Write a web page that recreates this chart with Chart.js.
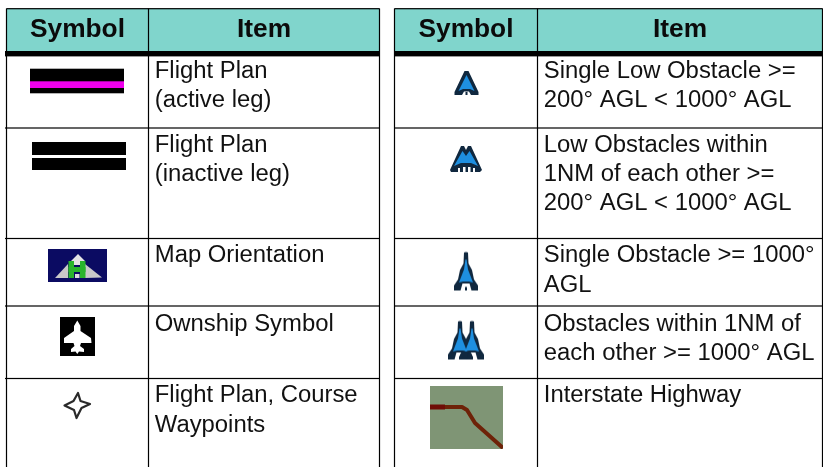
<!DOCTYPE html>
<html>
<head>
<meta charset="utf-8">
<title>Symbol table</title>
<style>
    html, body { margin: 0; padding: 0; background: #fff; }
    canvas { display: block; }
</style>
<script src="https://cdn.jsdelivr.net/npm/chart.js@4/dist/chart.umd.js"></script>
</head>
<body>
<canvas id="symbolChart" width="823" height="468"></canvas>
<script>
// Table content
const headers = ['Symbol', 'Item'];
const leftSymbols = ['activeLeg', 'inactiveLeg', 'mapOrientation', 'ownship', 'waypoint'];
const rightSymbols = ['lowObstacle', 'lowObstacles', 'obstacle', 'obstacles', 'highway'];
const leftItems = [
    ['Flight Plan', '(active leg)'],
    ['Flight Plan', '(inactive leg)'],
    ['Map Orientation'],
    ['Ownship Symbol'],
    ['Flight Plan, Course', 'Waypoints']
];
const rightItems = [
    ['Single Low Obstacle >=', '200° AGL < 1000° AGL'],
    ['Low Obstacles within', '1NM of each other >=', '200° AGL < 1000° AGL'],
    ['Single Obstacle >= 1000°', 'AGL'],
    ['Obstacles within 1NM of', 'each other >= 1000° AGL'],
    ['Interstate Highway']
];

// Table layout, in picture units (the axes run 0-823 and 0-468)
const leftColumns = [6.5, 148.5, 379.5];
const rightColumns = [394.5, 537.5, 822.5];
const rowLines = [128, 238.5, 306, 378.5];
const firstBaselines = [78, 152, 262, 331, 402];
const lineGaps = [29, 29, 30, 28.5, 30];
const leftSymbolX = [77, 79, 77.5, 77.5, 77];
const leftSymbolY = [81, 156, 265.5, 336.5, 405];
const rightSymbolX = [466, 466, 466, 466, 466.5];
const rightSymbolY = [83, 159, 271.5, 340.5, 417.5];

const INK = '#111';
const BLUE = '#1e8fe0';
const DARK = '#10283f';

// Makes a small blurred bitmap, the source picture is a soft raster
function makeSymbol(w, h, draw, blur) {
    const c = document.createElement('canvas');
    c.width = w;
    c.height = h;
    const ctx = c.getContext('2d');
    ctx.filter = 'blur(' + (blur === undefined ? 0.5 : blur) + 'px)';
    draw(ctx);
    return c;
}

function polygon(ctx, pts, fill) {
    ctx.beginPath();
    pts.forEach((p, i) => i ? ctx.lineTo(p[0], p[1]) : ctx.moveTo(p[0], p[1]));
    ctx.closePath();
    ctx.fillStyle = fill;
    ctx.fill();
}

// Tall obstacle tower: dark outline with an arch cut out of the foot
function towerOutline(ctx, cx, top) {
    const pts = [
        [-2, 0.5], [0, 0], [2, 0.5], [2.5, 11.5], [6, 18], [8, 27.5], [12, 33.5], [12, 38.5],
        [5.5, 38.5], [3.5, 31.5], [-3.5, 31.5], [-5.5, 38.5], [-12, 38.5], [-12, 33.5],
        [-8, 27.5], [-6, 18], [-2.5, 11.5]
    ];
    polygon(ctx, pts.map(p => [cx + p[0], top + p[1]]), DARK);
}

function towerFill(ctx, cx, top) {
    const pts = [
        [-0.5, 7.5], [0.5, 7.5], [2, 17.5], [7, 30.5], [3, 29.5], [-3, 29.5], [-7, 30.5], [-2, 17.5]
    ];
    polygon(ctx, pts.map(p => [cx + p[0], top + p[1]]), BLUE);
    ctx.fillStyle = DARK;
    ctx.fillRect(cx - 1, top + 35, 2, 3.5);
}

const symbolImages = {
    activeLeg: makeSymbol(98, 30, ctx => {
        ctx.fillStyle = '#000';
        ctx.fillRect(2, 2.7, 94, 24.6);
        ctx.fillStyle = '#f000ee';
        ctx.fillRect(2, 15.3, 94, 6.7);
    }, 0.5),
    inactiveLeg: makeSymbol(98, 32, ctx => {
        ctx.fillStyle = '#000';
        ctx.fillRect(2, 2, 94, 13);
        ctx.fillRect(2, 18, 94, 12);
    }, 0.6),
    mapOrientation: makeSymbol(59, 33, ctx => {
        ctx.fillStyle = '#0b0b62';
        ctx.fillRect(0, 0, 59, 33);
        ctx.filter = 'blur(0.6px)';
        polygon(ctx, [[7, 29], [20, 15], [20, 29]], '#c9c9c9');
        polygon(ctx, [[37, 15], [54, 28.5], [37, 29]], '#c9c9c9');
        polygon(ctx, [[30, 5], [37, 12], [33, 12], [33, 16], [26, 16], [26, 12], [23, 12]], '#e4e4e4');
        ctx.fillStyle = '#29b52c';
        ctx.fillRect(20.5, 12, 5.5, 17);
        ctx.fillRect(32, 12, 5.5, 17);
        ctx.fillRect(20.5, 18, 17, 5);
        ctx.fillStyle = '#ddd';
        ctx.fillRect(27, 25, 4.5, 4);
    }),
    ownship: makeSymbol(35, 39, ctx => {
        ctx.fillStyle = '#000';
        ctx.fillRect(0, 0, 35, 39);
        polygon(ctx, [
            [17.3, 3.5], [20.5, 9], [20.5, 14], [31, 21], [31.5, 26], [21, 26], [20, 29], [24, 32], [24, 35],
            [19, 34.5], [17.3, 37], [15.5, 34.5], [11, 35], [11, 32], [14.5, 29], [13.5, 26], [4, 26], [4, 21], [14, 14], [14, 9]
        ], '#fff');
    }, 0.4),
    waypoint: makeSymbol(34, 34, ctx => {
        ctx.beginPath();
        const pts = [[18, 5], [20.5, 13], [30, 16], [21.5, 20], [16.5, 30], [14, 22], [4.5, 17.5], [13.5, 13]];
        pts.forEach((p, i) => i ? ctx.lineTo(p[0], p[1]) : ctx.moveTo(p[0], p[1]));
        ctx.closePath();
        ctx.strokeStyle = '#2a2a2a';
        ctx.lineWidth = 2.2;
        ctx.lineJoin = 'round';
        ctx.stroke();
    }, 0.6),
    lowObstacle: makeSymbol(28, 30, ctx => {
        polygon(ctx, [[12.5, 3], [16.5, 3], [26.5, 24], [26.5, 27], [19, 27], [17, 23.5], [12, 23.5], [10, 27], [2.5, 27], [2.5, 24]], DARK);
        polygon(ctx, [[14.5, 7], [22.5, 23], [18, 21], [11, 21], [6.5, 23]], BLUE);
        ctx.fillStyle = DARK;
        ctx.fillRect(13.5, 24, 2, 3);
    }),
    lowObstacles: makeSymbol(36, 30, ctx => {
        polygon(ctx, [[13, 2], [16, 2], [18, 6], [20, 2], [23, 2], [34, 26], [32, 28], [3, 28], [2, 26]], DARK);
        polygon(ctx, [[14.5, 7], [18, 12], [21.5, 7], [30, 22], [23, 19], [13, 19], [6, 22]], BLUE);
        ctx.fillStyle = '#fff';
        ctx.fillRect(15, 23, 2.5, 5);
        ctx.fillRect(20, 23, 2.5, 5);
        ctx.fillRect(10, 24, 2, 4);
        ctx.fillRect(25, 24, 2, 4);
    }),
    obstacle: makeSymbol(30, 44, ctx => {
        towerOutline(ctx, 15, 2.5);
        towerFill(ctx, 15, 2.5);
    }),
    obstacles: makeSymbol(40, 44, ctx => {
        towerOutline(ctx, 14, 2.5);
        towerOutline(ctx, 26, 2.5);
        towerFill(ctx, 14, 2.5);
        towerFill(ctx, 26, 2.5);
    }),
    highway: makeSymbol(73, 63, ctx => {
        ctx.fillStyle = '#7f9575';
        ctx.fillRect(0, 0, 73, 63);
        ctx.filter = 'blur(0.6px)';
        ctx.lineCap = 'butt';
        ctx.lineJoin = 'round';
        ctx.strokeStyle = '#6e2208';
        ctx.lineWidth = 4;
        ctx.beginPath();
        ctx.moveTo(14, 21);
        ctx.lineTo(32, 21);
        ctx.lineTo(37, 24);
        ctx.lineTo(45, 37);
        ctx.lineTo(73, 62);
        ctx.stroke();
        ctx.strokeStyle = '#6f0c06';
        ctx.lineWidth = 5;
        ctx.beginPath();
        ctx.moveTo(0, 21);
        ctx.lineTo(15, 21);
        ctx.stroke();
    }, 0)
};

// Draws the cell fills, rules and text through the chart scales
const tablePlugin = {
    id: 'symbolTable',
    beforeDatasetsDraw(chart) {
        const { ctx, scales: { x, y } } = chart;
        const hLine = (x0, x1, yv, width) => {
            ctx.fillStyle = '#000';
            ctx.fillRect(x.getPixelForValue(x0), y.getPixelForValue(yv) - width / 2, x.getPixelForValue(x1) - x.getPixelForValue(x0), width);
        };
        const vLine = (xv, y0, y1) => {
            ctx.fillStyle = '#000';
            ctx.fillRect(x.getPixelForValue(xv) - 0.6, y.getPixelForValue(y0), 1.2, y.getPixelForValue(y1) - y.getPixelForValue(y0));
        };

        [[leftColumns, leftItems, 5], [rightColumns, rightItems, 394]].forEach(([cols, items, lineStart]) => {
            const right = cols[2];

            // Header band
            ctx.fillStyle = '#80d5cc';
            ctx.fillRect(x.getPixelForValue(cols[0]), y.getPixelForValue(8.5), x.getPixelForValue(right) - x.getPixelForValue(cols[0]), y.getPixelForValue(51) - y.getPixelForValue(8.5));

            // Rules
            hLine(cols[0], right, 8.7, 1.2);
            hLine(lineStart, right + 0.5, 53.7, 5.4);
            rowLines.forEach(r => hLine(lineStart, right + 0.5, r, 1.2));
            cols.forEach(c => vLine(c, 8.5, 467));

            // Header text
            ctx.fillStyle = '#0b0b0b';
            ctx.textAlign = 'center';
            ctx.textBaseline = 'alphabetic';
            ctx.font = 'bold 26.3px "Liberation Sans", Arial, sans-serif';
            ctx.fillText(headers[0], x.getPixelForValue((cols[0] + cols[1]) / 2), y.getPixelForValue(37));
            ctx.fillText(headers[1], x.getPixelForValue((cols[1] + right) / 2), y.getPixelForValue(37));

            // Item text
            ctx.textAlign = 'left';
            ctx.fillStyle = INK;
            ctx.font = '23.85px "Liberation Sans", Arial, sans-serif';
            items.forEach((lines, row) => {
                lines.forEach((line, i) => {
                    ctx.fillText(line, x.getPixelForValue(cols[1] + 6.3), y.getPixelForValue(firstBaselines[row] + i * lineGaps[row]));
                });
            });
        });
    }
};

function initializeChart() {
    const symbolPoints = (xs, ys) => xs.map((xv, i) => ({ x: xv, y: ys[i] }));
    new Chart(document.getElementById('symbolChart'), {
        type: 'scatter',
        data: {
            datasets: [
                {
                    label: 'Left symbols',
                    data: symbolPoints(leftSymbolX, leftSymbolY),
                    pointStyle: leftSymbols.map(name => symbolImages[name]),
                    pointRadius: 10
                },
                {
                    label: 'Right symbols',
                    data: symbolPoints(rightSymbolX, rightSymbolY),
                    pointStyle: rightSymbols.map(name => symbolImages[name]),
                    pointRadius: 10
                }
            ]
        },
        options: {
            responsive: false,
            animation: false,
            events: [],
            layout: { padding: 0, autoPadding: false },
            plugins: { legend: { display: false }, tooltip: { enabled: false }, title: { display: false } },
            scales: {
                x: { type: 'linear', min: 0, max: 823, display: false },
                y: { type: 'linear', min: 0, max: 468, reverse: true, display: false }
            }
        },
        plugins: [tablePlugin]
    });
}

initializeChart();
</script>
</body>
</html>
